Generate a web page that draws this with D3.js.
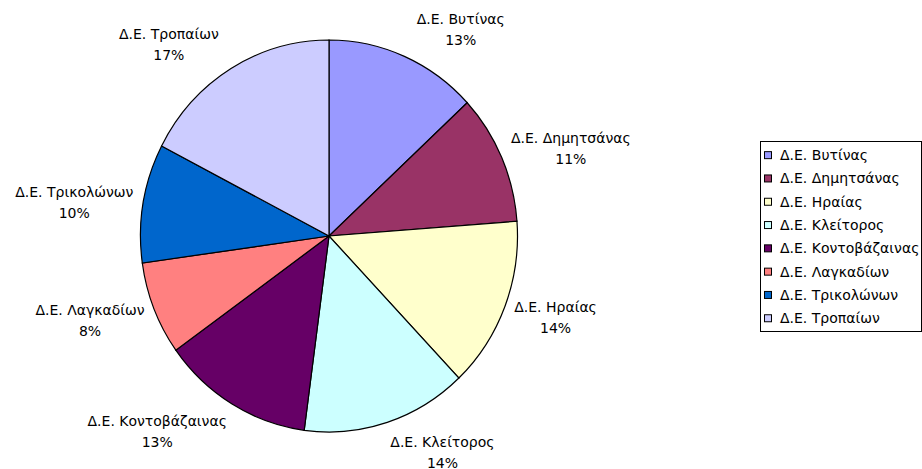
<!DOCTYPE html>
<html>
<head>
<meta charset="utf-8">
<script src="https://cdn.jsdelivr.net/npm/d3@7"></script>
<style>
  body { margin: 0; background: #fff; }
  svg { display: block; }
  text { font-family: "DejaVu Sans", Verdana, sans-serif; font-size: 14px; fill: #000; }
</style>
</head>
<body>
<svg id="chart" width="922" height="469"></svg>
<script>
const categories = ["Δ.Ε. Βυτίνας", "Δ.Ε. Δημητσάνας", "Δ.Ε. Ηραίας", "Δ.Ε. Κλείτορος",
                    "Δ.Ε. Κοντοβάζαινας", "Δ.Ε. Λαγκαδίων", "Δ.Ε. Τρικολώνων", "Δ.Ε. Τροπαίων"];
const values = [13.1, 10.7, 14.1, 14.2, 13.0, 7.7, 9.8, 17.4];
const colors = ["#9999FF", "#993366", "#FFFFCC", "#CCFFFF", "#660066", "#FF8080", "#0066CC", "#CCCCFF"];

const svg = d3.select("#chart");
const W = 922, H = 469;
svg.append("rect").attr("width", W).attr("height", H).attr("fill", "#fff");

const cx = 329, cy = 236, rx = 188.5, ry = 196;
const total = d3.sum(values);
const data = categories.map((c, i) => ({ name: c, value: values[i], color: colors[i] }));

const pie = d3.pie().value(d => d.value).sort(null);
const arcs = pie(data);
const arc = d3.arc().innerRadius(0).outerRadius(rx);

const g = svg.append("g").attr("transform", `translate(${cx},${cy}) scale(1,${ry / rx})`);
g.selectAll("path").data(arcs).join("path")
  .attr("d", arc)
  .attr("fill", d => d.data.color)
  .attr("stroke", "#000")
  .attr("stroke-width", 1.2)
  .attr("vector-effect", "non-scaling-stroke");

// labels
const off = 10, lineGap = 21, boxH = 42;
const lg = svg.append("g");
arcs.forEach(a => {
  const ang = (a.startAngle + a.endAngle) / 2;
  const s = Math.sin(ang), c = Math.cos(ang);
  const ax = cx + (rx + off) * s + Math.sign(s) * Math.max(0, c - 0.5) * 20;
  const ay = cy - (ry + off) * c;
  const t1 = lg.append("text").attr("text-anchor", "middle").text(a.data.name);
  const w = t1.node().getComputedTextLength();
  const mx = s >= 0 ? ax + w / 2 : ax - w / 2;
  const my = c > 0 ? ay - (boxH / 2 + 4) * c + 5.5 : ay - (boxH / 2) * c + 0.5;
  t1.attr("x", mx).attr("y", my - lineGap / 2).attr("dy", "0.35em");
  lg.append("text").attr("text-anchor", "middle")
    .attr("x", mx).attr("y", my + lineGap / 2).attr("dy", "0.35em")
    .text(Math.round(a.data.value / total * 100) + "%");
});

// legend
const legX = 760, legY = 141, legW = 161, legH = 190, rowH = 23.3;
const leg = svg.append("g");
leg.append("rect").attr("x", legX + 0.5).attr("y", legY + 0.5)
  .attr("width", legW).attr("height", legH)
  .attr("fill", "#fff").attr("stroke", "#000").attr("stroke-width", 1);
const ly = d3.scaleBand().domain(categories).range([legY + 2.5, legY + 2.5 + rowH * categories.length]);
const items = leg.selectAll("g.item").data(data).join("g").attr("class", "item")
  .attr("transform", d => `translate(${legX}, ${ly(d.name) + ly.bandwidth() / 2})`);
items.append("rect").attr("x", 4.5).attr("y", -3.5).attr("width", 7).attr("height", 7)
  .attr("fill", d => d.color).attr("stroke", "#000").attr("stroke-width", 1);
items.append("text").attr("x", 20).attr("y", 0).attr("dy", "0.35em").text(d => d.name);
</script>
</body>
</html>
